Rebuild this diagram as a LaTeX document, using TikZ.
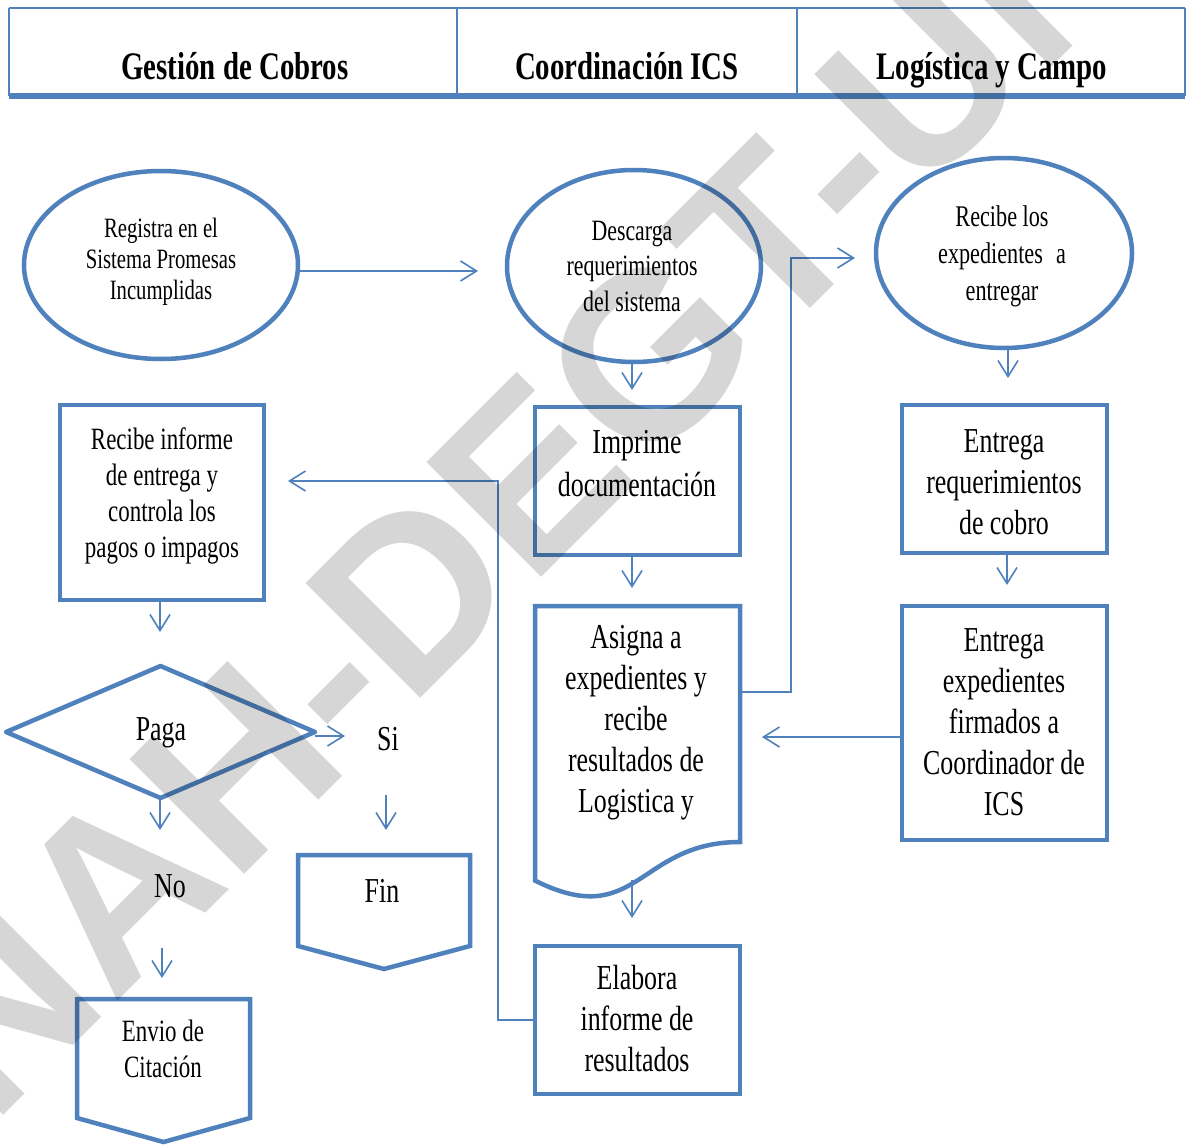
\documentclass[tikz,border=0pt]{standalone}
\usepackage{fontspec}
\setmainfont{Liberation Serif}[FakeStretch=0.74]
\newfontfamily\wmfont{Liberation Sans}
\usetikzlibrary{arrows.meta,calc,shapes.geometric}
\definecolor{flowblue}{RGB}{79,129,189}

\tikzset{
  shapeline/.style={draw=flowblue, line width=4.5pt},
  boxnode/.style={shapeline, rectangle, inner sep=0pt, outer sep=0pt},
  oval/.style={shapeline, ellipse, inner sep=0pt, outer sep=0pt},
  slot/.style={inner sep=0pt, outer sep=0pt},
  link/.style={draw=flowblue, line width=1.6pt, -{Straight Barb[length=16pt,width=20pt]}},
  txt/.style={align=center, inner sep=0pt, text=black},
  bodytxt/.style={txt, font=\fontsize{35}{41}\selectfont},
  headtxt/.style={txt, font=\bfseries\fontsize{39}{45}\selectfont},
}

\begin{document}
\begin{tikzpicture}[x=1pt,y=-1pt]
\useasboundingbox (0,0) rectangle (1188,1145);
\fill[white] (0,0) rectangle (1188,1145);

% ---- lane header ----
\draw[flowblue, line width=2pt] (9,8) -- (1185,8);
\draw[flowblue, line width=1.4pt] (9,8) -- (9,96) (457,8) -- (457,96)
  (797,8) -- (797,96) (1185,8) -- (1185,96);
\draw[flowblue, line width=5.5pt] (9,96) -- (1185,96);
\node[headtxt, anchor=base] (h1) at (235,80) {Gestión de Cobros};
\node[headtxt, anchor=base] (h2) at (627,80) {Coordinación ICS};
\node[headtxt, anchor=base] (h3) at (992,80) {Logística y Campo};

% ---- shapes ----
\node[oval, minimum width=274pt, minimum height=188pt] (e1) at (161,265) {};
\node[oval, minimum width=254pt, minimum height=192pt] (e2) at (634,266) {};
\node[oval, minimum width=256pt, minimum height=190pt] (e3) at (1004,253) {};
\node[boxnode, minimum width=204pt, minimum height=195pt] (b1) at (162,502.5) {};
\node[boxnode, minimum width=205pt, minimum height=148pt] (imp) at (637.5,481) {};
\node[boxnode, minimum width=205pt, minimum height=148pt] (er) at (1004.5,479) {};
\node[boxnode, minimum width=205pt, minimum height=234pt] (eexp) at (1004.5,723) {};
\node[boxnode, minimum width=205pt, minimum height=148pt] (ela) at (637.5,1020) {};

% frames of the outlines drawn by hand
\node[slot, minimum width=205pt, minimum height=294pt] (asg) at (637.5,753) {};
\node[slot, minimum width=309pt, minimum height=132pt] (paga) at (160.5,732) {};
\node[slot, minimum width=172pt, minimum height=114pt] (fin) at (384,912) {};
\node[slot, minimum width=173pt, minimum height=143pt] (env) at (163.5,1070.5) {};

% document shape with wavy bottom
\draw[shapeline] (asg.north west) -- (asg.north east) -- ($(asg.north east)+(0,236)$)
  .. controls ($(asg.north)+(0,236)$) and ($(asg.north)+(0,325.6)$) .. ($(asg.north west)+(0,274.6)$) -- cycle;
% decision
\draw[shapeline, line join=round] (paga.west) -- (paga.north) -- (paga.east) -- (paga.south) -- cycle;
% off-page terminators
\draw[shapeline] (fin.north west) -- (fin.north east) -- ($(fin.north east)+(0,91)$)
  -- (fin.south) -- ($(fin.north west)+(0,91)$) -- cycle;
\draw[shapeline] (env.north west) -- (env.north east) -- ($(env.north east)+(0,119)$)
  -- (env.south) -- ($(env.north west)+(0,119)$) -- cycle;

% ---- texts ----
\node[txt, font=\fontsize{28}{31}\selectfont] (te1) at (161,262) {Registra en el\\Sistema Promesas\\Incumplidas};
\node[txt, font=\fontsize{29.5}{35.5}\selectfont] (te2) at (632,266) {Descarga\\requerimientos\\del sistema};
\node[txt, font=\fontsize{30}{37}\selectfont] (te3) at (1002,256) {Recibe los\\expedientes\hspace{0.25em} a\\entregar};
\node[txt, font=\fontsize{31}{36}\selectfont] (tb1) at (162,496) {Recibe informe\\de entrega y\\controla los\\pagos o impagos};
\node[txt, font=\fontsize{35}{43}\selectfont] (timp) at (637,464) {Imprime\\documentación};
\node[bodytxt] (ter) at (1004,482) {Entrega\\requerimientos\\de cobro};
\node[bodytxt] (tasg) at (636,723) {Asigna a\\expedientes y\\recibe\\resultados de\\Logistica y};
\node[bodytxt] (teexp) at (1004,722) {Entrega\\expedientes\\firmados a\\Coordinador de\\ICS};
\node[bodytxt] (tela) at (637,1019) {Elabora\\informe de\\resultados};
\node[bodytxt] (tpaga) at (161,733) {Paga};
\node[bodytxt] (si) at (388,739) {Si};
\node[bodytxt] (no) at (170,886) {No};
\node[bodytxt] (tfin) at (382,891) {Fin};
\node[txt, font=\fontsize{31}{36}\selectfont] (tenv) at (163,1049) {Envio de\\Citación};

% ---- connectors ----
\coordinate (a1tip) at (478,271);
\coordinate (a2tip) at (632,390);
\coordinate (a3tip) at (1008,378);
\coordinate (a4tip) at (632,588);
\coordinate (a5tip) at (1007,585);
\coordinate (a6start) at ($(asg.north)+(-5.5,274)$);
\coordinate (a6tip) at (632,918);
\coordinate (a7tip) at (762,737);
\coordinate (a8bend) at (791,692);
\coordinate (a8tip) at (855,258);
\coordinate (a9bend) at (498,1021);
\coordinate (a9tip) at (288,481);
\coordinate (a10tip) at (160,632);
\coordinate (a11tip) at (345,736);
\coordinate (a12tip) at (386,830);
\coordinate (a13tip) at (160,830);
\coordinate (a14tip) at (162,978);

\draw[link] (e1.east |- a1tip) -- (a1tip);
\draw[link] (a2tip |- e2.south) -- (a2tip);
\draw[link] (a3tip |- e3.south) -- (a3tip);
\draw[link] (a4tip |- imp.south) -- (a4tip);
\draw[link] (a5tip |- er.south) -- (a5tip);
\draw[link] (a6start) -- (a6tip);
\draw[link] (eexp.west |- a7tip) -- (a7tip);
\draw[link] (asg.east |- a8bend) -- (a8bend) -- (a8bend |- a8tip) -- (a8tip);
\draw[link] (ela.west) -- (a9bend |- ela.west) -- (a9bend |- a9tip) -- (a9tip);
\draw[link] (a10tip |- b1.south) -- (a10tip);
\draw[link] (paga.east |- a11tip) -- (a11tip);
\draw[link] ($(a12tip)+(0,-35)$) -- (a12tip);
\draw[link] (a13tip |- paga.south) -- (a13tip);
\draw[link] ($(a14tip)+(0,-30)$) -- (a14tip);

% ---- watermark ----
\begin{scope}
  \clip (0,0) rectangle (1188,1145);
  \node[anchor=base west, rotate=45, inner sep=0pt, text=black, text opacity=0.16,
        font=\wmfont\bfseries\fontsize{236}{236}\selectfont] (wm) at (-128,1247) {UNAH-DEGT-UNAH};
\end{scope}
\end{tikzpicture}
\end{document}
